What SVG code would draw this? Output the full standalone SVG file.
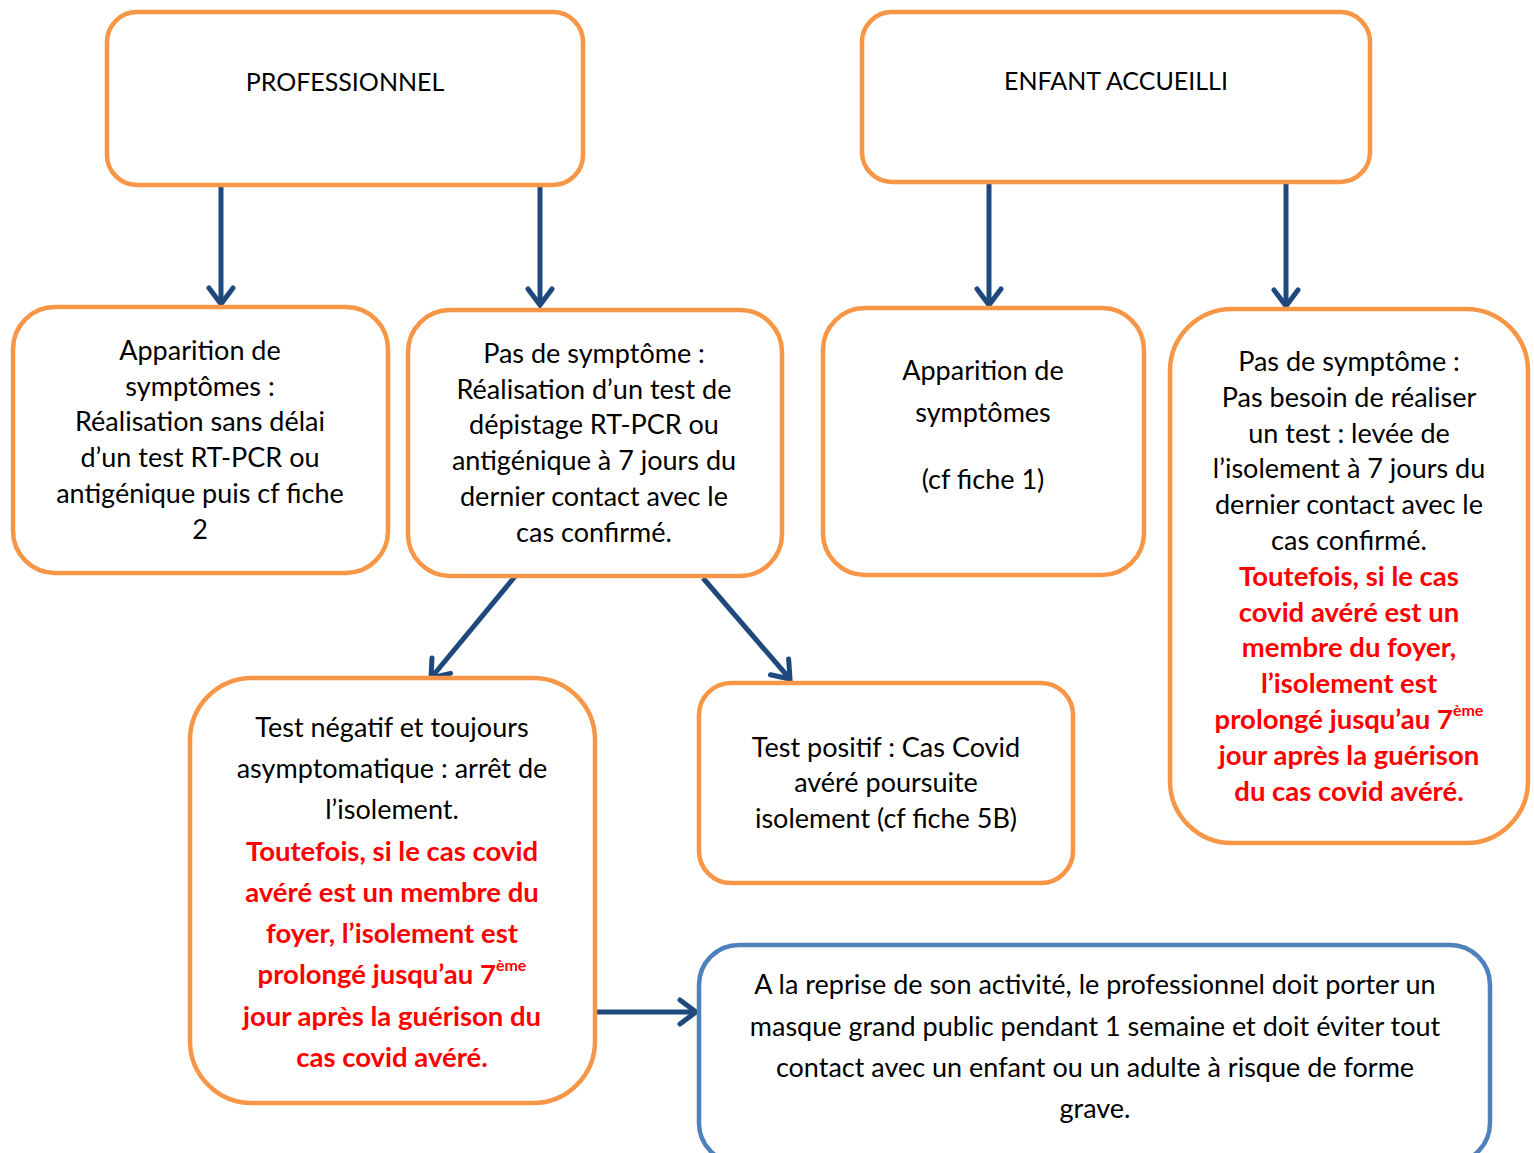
<svg xmlns="http://www.w3.org/2000/svg" width="1534" height="1153" viewBox="0 0 1534 1153">
<style>
.box{fill:#fff;stroke:#F79646;stroke-width:4.5}
.blue{fill:#fff;stroke:#4F81BD;stroke-width:4.5}
.t{font-family:Lato,"Open Sans",sans-serif;font-size:27px;fill:#000;text-anchor:middle}
.h{font-size:25px}
.r{font-family:Lato,"Open Sans",sans-serif;font-size:27.5px;fill:#FF0000;font-weight:bold;text-anchor:middle}
.sup{font-size:16px}
.con{stroke:#1F497D;stroke-width:5;fill:none;marker-end:url(#ah)}
</style>
<defs>
<marker id="ah" markerUnits="userSpaceOnUse" markerWidth="40" markerHeight="40" viewBox="-20 -20 40 40" refX="0" refY="0" orient="auto">
<path d="M-16,-12 L0,0 L-16,12" fill="none" stroke="#1F497D" stroke-width="5" stroke-linecap="round" stroke-linejoin="miter"/>
</marker>
</defs>
<rect width="1534" height="1153" fill="#fff"/>
<g id="connectors">
<line class="con" x1="221" y1="187" x2="221" y2="304"/>
<line class="con" x1="540" y1="185" x2="540" y2="305"/>
<line class="con" x1="989" y1="184" x2="989" y2="305"/>
<line class="con" x1="1286" y1="184" x2="1286" y2="306"/>
<line class="con" x1="517" y1="574" x2="431" y2="678"/>
<line class="con" x1="703" y1="578" x2="790" y2="679"/>
<line class="con" x1="597" y1="1012" x2="696" y2="1012"/>
</g>
<g id="professionnel">
<rect class="box" x="107" y="12" width="476" height="173" rx="30"/>
<text class="t h" x="345" y="91">PROFESSIONNEL</text>
</g>
<g id="enfant">
<rect class="box" x="862" y="12" width="508" height="170" rx="30"/>
<text class="t h" x="1116" y="90">ENFANT ACCUEILLI</text>
</g>
<g id="pro-symptomes">
<rect class="box" x="13" y="307" width="375" height="266" rx="42"/>
<text class="t" x="200" y="360">Apparition de</text>
<text class="t" x="200" y="396">symptômes :</text>
<text class="t" x="200" y="431">Réalisation sans délai</text>
<text class="t" x="200" y="467">d’un test RT-PCR ou</text>
<text class="t" x="200" y="503">antigénique puis cf fiche</text>
<text class="t" x="200" y="539">2</text>
</g>
<g id="pro-pas-symptome">
<rect class="box" x="408" y="310" width="374" height="266" rx="42"/>
<text class="t" x="594" y="363">Pas de symptôme :</text>
<text class="t" x="594" y="399">Réalisation d’un test de</text>
<text class="t" x="594" y="434">dépistage RT-PCR ou</text>
<text class="t" x="594" y="470">antigénique à 7 jours du</text>
<text class="t" x="594" y="506">dernier contact avec le</text>
<text class="t" x="594" y="542">cas confirmé.</text>
</g>
<g id="enf-symptomes">
<rect class="box" x="823" y="308" width="321" height="267" rx="42"/>
<text class="t" x="983" y="380">Apparition de</text>
<text class="t" x="983" y="422">symptômes</text>
<text class="t" x="983" y="489">(cf fiche 1)</text>
</g>
<g id="enf-pas-symptome">
<rect class="box" x="1170" y="309" width="358" height="534" rx="62"/>
<text class="t" x="1349" y="371">Pas de symptôme :</text>
<text class="t" x="1349" y="407">Pas besoin de réaliser</text>
<text class="t" x="1349" y="443">un test : levée de</text>
<text class="t" x="1349" y="478">l’isolement à 7 jours du</text>
<text class="t" x="1349" y="514">dernier contact avec le</text>
<text class="t" x="1349" y="550">cas confirmé.</text>
<text class="r" x="1349" y="586">Toutefois, si le cas</text>
<text class="r" x="1349" y="622">covid avéré est un</text>
<text class="r" x="1349" y="657">membre du foyer,</text>
<text class="r" x="1349" y="693">l’isolement est</text>
<text class="r" x="1349" y="729">prolongé jusqu’au 7<tspan class="sup" dy="-13">ème</tspan></text>
<text class="r" x="1349" y="765">jour après la guérison</text>
<text class="r" x="1349" y="801">du cas covid avéré.</text>
</g>
<g id="test-negatif">
<rect class="box" x="190" y="678" width="405" height="425" rx="62"/>
<text class="t" x="392" y="737">Test négatif et toujours</text>
<text class="t" x="392" y="778">asymptomatique : arrêt de</text>
<text class="t" x="392" y="819">l’isolement.</text>
<text class="r" x="392" y="861">Toutefois, si le cas covid</text>
<text class="r" x="392" y="902">avéré est un membre du</text>
<text class="r" x="392" y="943">foyer, l’isolement est</text>
<text class="r" x="392" y="984">prolongé jusqu’au 7<tspan class="sup" dy="-13">ème</tspan></text>
<text class="r" x="392" y="1026">jour après la guérison du</text>
<text class="r" x="392" y="1067">cas covid avéré.</text>
</g>
<g id="test-positif">
<rect class="box" x="699" y="683" width="374" height="200" rx="32"/>
<text class="t" x="886" y="757">Test positif : Cas Covid</text>
<text class="t" x="886" y="792">avéré poursuite</text>
<text class="t" x="886" y="828">isolement (cf fiche 5B)</text>
</g>
<g id="reprise">
<rect class="blue" x="699" y="945" width="791" height="218" rx="40"/>
<text class="t" x="1095" y="994">A la reprise de son activité, le professionnel doit porter un</text>
<text class="t" x="1095" y="1036">masque grand public pendant 1 semaine et doit éviter tout</text>
<text class="t" x="1095" y="1077">contact avec un enfant ou un adulte à risque de forme</text>
<text class="t" x="1095" y="1118">grave.</text>
</g>
</svg>
